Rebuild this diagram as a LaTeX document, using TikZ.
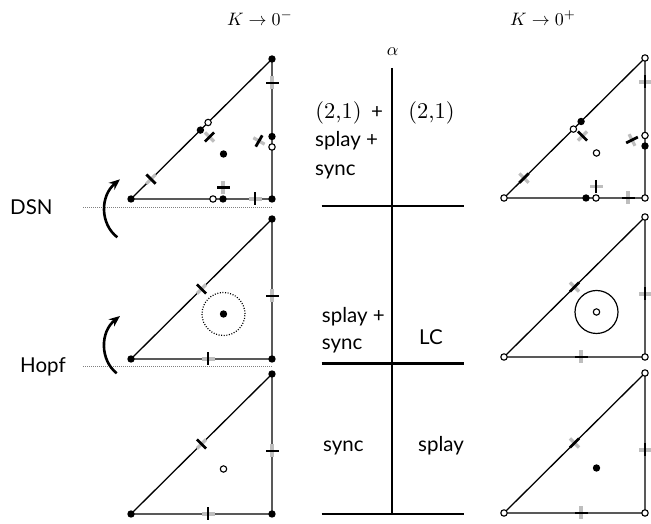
\documentclass[tikz,border=0pt]{standalone}
\usepackage{fontspec}
\newfontfamily\gs{Lato}
\usetikzlibrary{arrows.meta}
\definecolor{lg}{RGB}{190,190,190}
\tikzset{
  edge/.style={line width=1.3pt, black},
  bbar/.style={line width=2.8pt, black},
  gbar/.style={line width=3.2pt, lg},
  lbl/.style={font=\gs\fontsize{20.5}{24}\selectfont, inner sep=0pt, anchor=base west},
  slbl/.style={font=\fontsize{10}{12}\selectfont, scale=2.25, inner sep=0pt, anchor=base west},
  mlbl/.style={font=\fontsize{10}{12}\selectfont, scale=1.8, inner sep=0pt},
  axis/.style={line width=2.4pt, black},
  guide/.style={line width=0.6pt, gray, dash pattern=on 1pt off 1pt},
  curv/.style={line width=2.6pt, -{Stealth[length=11pt,width=9pt]}},
}
\newcommand{\mk}[3]{%
  \draw[gbar] (#1) ++(#3:6.5) -- ++(#3+180:13);
  \draw[bbar] (#1) ++(#2:6.5) -- ++(#2+180:13);}
\newcommand{\fd}[1]{\fill (#1) circle (3.7);}
\newcommand{\od}[1]{\filldraw[fill=white, draw=black, line width=1.1pt] (#1) circle (3.2);}
\newcommand{\mytri}{\draw[edge] (0,0) -- (141,0) -- (141,140) -- cycle;}
\begin{document}
\begin{tikzpicture}[x=1pt,y=1pt]
\useasboundingbox (0,0) rectangle (651,524);

% headers
\node[mlbl] (hl) at (260,506) {$K\to 0^-$};
\node[mlbl] (hr) at (543,506) {$K\to 0^+$};
\node[mlbl] (al) at (392.7,472) {$\alpha$};

% central axis
\draw[axis] (391.7,456) -- (391.7,10);
\draw[axis] (321.7,318) -- (464,318);
\draw[axis] (321.7,160.5) -- (464,160.5);
\draw[axis] (321.7,10) -- (464,10);

% central labels
\node[slbl] (t1) at (315,405) {(2,1)};
\node[lbl] (t1b) at (371,405) {+};
\node[lbl] (t2) at (315,377) {splay +};
\node[lbl] (t3) at (315,348) {sync};
\node[slbl] (t4) at (408,405) {(2,1)};
\node[lbl] (t5) at (321.7,201.7) {splay +};
\node[lbl] (t6) at (321.7,174.7) {sync};
\node[lbl] (t7) at (419,179) {LC};
\node[lbl] (t8) at (323,72.3) {sync};
\node[lbl] (t9) at (418,72.3) {splay};

% left labels, guides, arrows
\node[lbl] (dsn) at (10,309) {DSN};
\node[lbl] (hopf) at (20,151) {Hopf};
\draw[guide] (83,317) -- (273,317);
\draw[guide] (83,157.5) -- (273,157.5);
\draw[curv] (117.3,286.7) .. controls (100,300) and (100,328) .. (120,344.7);
\draw[curv] (116.7,150.7) .. controls (100,164) and (100,192) .. (120,208);

% ---------- left column ----------
\begin{scope}[shift={(131,325)}]
  \mytri
  \mk{20,19.9}{-45}{45}
  \mk{141,116}{0}{90}
  \mk{124,0}{90}{0}
  \mk{78.5,62}{45}{-45}
  \mk{128,58}{60}{-30}
  \mk{92,11.5}{0}{90}
  \fd{0,0}\fd{141,0}\fd{141,140}
  \od{77.1,76.5}\fd{69.4,68.9}
  \fd{141,62.5}\od{141,52}
  \od{82,0}\fd{92,0}
  \fd{92.5,45}
\end{scope}

\begin{scope}[shift={(131,165)}]
  \mytri
  \mk{70.5,70}{-45}{45}
  \mk{141,63}{0}{90}
  \mk{77,0}{90}{0}
  \draw[line width=1.2pt, dash pattern=on 1pt off 1.6pt] (92.5,45) circle (21.5);
  \fd{0,0}\fd{141,0}\fd{141,140}
  \fd{92.5,45}
\end{scope}

\begin{scope}[shift={(131,10)}]
  \mytri
  \mk{70.5,70}{-45}{45}
  \mk{141,63}{0}{90}
  \mk{77,0}{90}{0}
  \fd{0,0}\fd{141,0}\fd{141,140}
  \od{92.5,45}
\end{scope}

% ---------- right column ----------
\begin{scope}[shift={(504,326)}]
  \mytri
  \mk{20,19.9}{45}{-45}
  \mk{141,116}{90}{0}
  \mk{124,0}{0}{90}
  \mk{78.5,62}{-45}{45}
  \mk{128,58}{27}{-63}
  \mk{92,11.5}{90}{0}
  \od{0,0}\od{141,0}\od{141,140}
  \fd{77.1,76.5}\od{69.4,68.9}
  \od{141,62.5}\fd{141,52}
  \fd{82,0}\od{92,0}
  \od{92.5,45}
\end{scope}

\begin{scope}[shift={(504,167)}]
  \mytri
  \mk{70.5,70}{45}{-45}
  \mk{141,63}{90}{0}
  \mk{77,0}{0}{90}
  \draw[line width=1.2pt] (92.5,45) circle (21.5);
  \od{0,0}\od{141,0}\od{141,140}
  \od{92.5,45}
\end{scope}

\begin{scope}[shift={(504,11)}]
  \mytri
  \mk{70.5,70}{45}{-45}
  \mk{141,63}{90}{0}
  \mk{77,0}{0}{90}
  \od{0,0}\od{141,0}\od{141,140}
  \fd{92.5,45}
\end{scope}
\end{tikzpicture}
\end{document}
